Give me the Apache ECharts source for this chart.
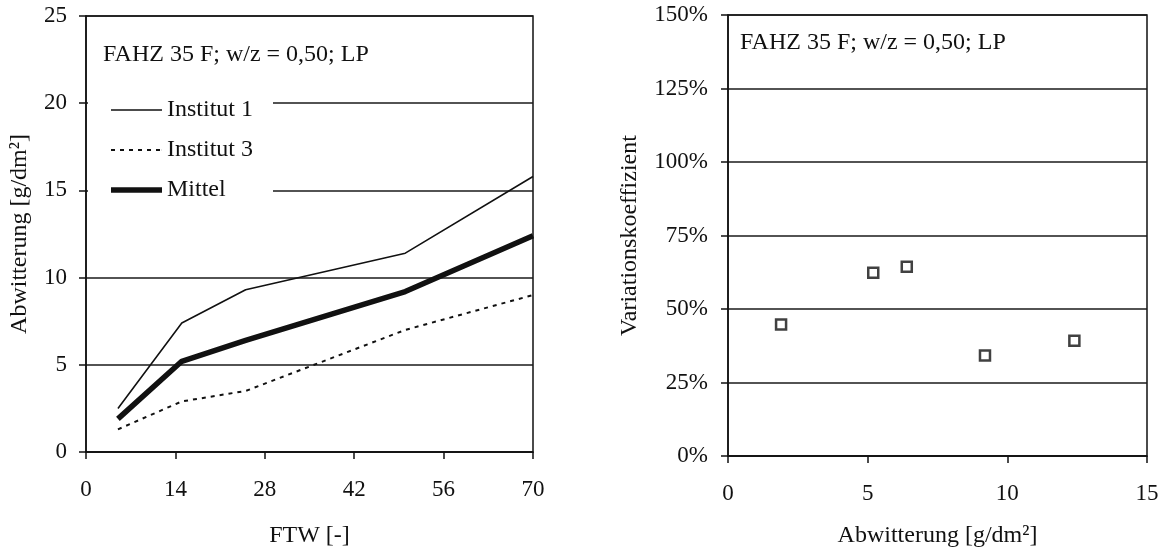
<!DOCTYPE html>
<html>
<head>
<meta charset="utf-8">
<script src="https://cdn.jsdelivr.net/npm/echarts@6/dist/echarts.min.js"></script>
<style>
  html, body { margin: 0; padding: 0; background: #fff; }
  #chart { width: 1166px; height: 553px; }
</style>
</head>
<body>
<div id="chart"></div>
<script>
// Frost-thaw cycles (FTW) at which scaling was measured
const ftw = [5, 15, 25, 50, 70];
// Scaling in g/dm² per laboratory and their mean
const institut1 = [2.5, 7.4, 9.3, 11.4, 15.8];
const institut3 = [1.3, 2.9, 3.5, 7.0, 9.0];
const mittel = [1.9, 5.2, 6.4, 9.2, 12.4];
// Coefficient of variation (%) belonging to each mean scaling value
const variation = [44.7, 62.3, 64.4, 34.2, 39.2];

const subtitle = 'FAHZ 35 F; w/z = 0,50; LP';
const FONT = '"Liberation Serif", "DejaVu Serif", serif';
const INK = '#111';

const pairs = (xs, ys) => xs.map((x, i) => [x, ys[i]]);

// Legend swatches: plain line, short dashes, heavy line
const ICON_SOLID = 'path://M0,0H51V1.6H0Z';
const ICON_DASH = 'path://M0,0h4v1.8h-4z M9,0h4v1.8h-4z M18,0h4v1.8h-4z M27,0h4v1.8h-4z M36,0h4v1.8h-4z M45,0h4v1.8h-4z M50.9,0h0.1v1.8h-0.1z';
const ICON_HEAVY = 'path://M0,0H51V5.5H0Z';

function valueAxis(opts) {
  return Object.assign({
    type: 'value',
    axisLine: { show: true, lineStyle: { color: INK, width: 1.5 } },
    axisTick: { show: true, inside: false, length: 7, lineStyle: { color: INK, width: 1.5 } },
    axisLabel: { color: INK, fontFamily: FONT, fontSize: 23 },
    splitLine: { show: true, lineStyle: { color: '#1a1a1a', width: 1.5 } },
    nameTextStyle: { color: INK, fontFamily: FONT, fontSize: 24 },
    nameLocation: 'middle'
  }, opts);
}

const chart = echarts.init(document.getElementById('chart'), null, { renderer: 'canvas' });

chart.setOption({
  backgroundColor: '#fff',
  animation: false,
  title: [
    { text: subtitle, left: 103, top: 43, padding: 0,
      textStyle: { color: INK, fontFamily: FONT, fontSize: 24, fontWeight: 'normal' } },
    { text: subtitle, left: 740, top: 31, padding: 0,
      textStyle: { color: INK, fontFamily: FONT, fontSize: 24, fontWeight: 'normal' } }
  ],
  legend: {
    data: [
      { name: 'Institut 1', icon: ICON_SOLID, itemStyle: { color: INK } },
      { name: 'Institut 3', icon: ICON_DASH, itemStyle: { color: INK } },
      { name: 'Mittel', icon: ICON_HEAVY, itemStyle: { color: INK } }
    ],
    orient: 'vertical',
    left: 88,
    top: 84,
    padding: [14, 20, 14, 23],
    itemGap: 16,
    itemWidth: 51,
    itemHeight: 14,
    symbolKeepAspect: true,
    backgroundColor: '#fff',
    textStyle: { color: INK, fontFamily: FONT, fontSize: 24 },
    selectedMode: false
  },
  grid: [
    { left: 86, top: 16, width: 447, height: 440, show: true,
      borderColor: INK, borderWidth: 1.5, containLabel: false },
    { left: 728, top: 15, width: 419, height: 445, show: true,
      borderColor: INK, borderWidth: 1.5, containLabel: false }
  ],
  xAxis: [
    valueAxis({ gridIndex: 0, min: 0, max: 70, interval: 14, name: 'FTW [-]', nameGap: 72,
      axisLabel: { color: INK, fontFamily: FONT, fontSize: 23, margin: 26 },
      splitLine: { show: false } }),
    valueAxis({ gridIndex: 1, min: 0, max: 15, interval: 5, name: 'Abwitterung [g/dm²]', nameGap: 68,
      axisLabel: { color: INK, fontFamily: FONT, fontSize: 23, margin: 26 },
      splitLine: { show: false } })
  ],
  yAxis: [
    valueAxis({ gridIndex: 0, min: 0, max: 25, interval: 5, name: 'Abwitterung [g/dm²]', nameGap: 54,
      axisLabel: { color: INK, fontFamily: FONT, fontSize: 23, margin: 19 } }),
    valueAxis({ gridIndex: 1, min: 0, max: 150, interval: 25, name: 'Variationskoeffizient', nameGap: 86,
      axisLabel: { color: INK, fontFamily: FONT, fontSize: 23, margin: 20, formatter: '{value}%' } })
  ],
  series: [
    { name: 'Institut 1', type: 'line', xAxisIndex: 0, yAxisIndex: 0,
      data: pairs(ftw, institut1), symbol: 'none', z: 3,
      itemStyle: { color: INK },
      lineStyle: { color: INK, width: 1.6, type: 'solid' } },
    { name: 'Institut 3', type: 'line', xAxisIndex: 0, yAxisIndex: 0,
      data: pairs(ftw, institut3), symbol: 'none', z: 3,
      itemStyle: { color: INK },
      lineStyle: { color: INK, width: 2, type: [4, 5] } },
    { name: 'Mittel', type: 'line', xAxisIndex: 0, yAxisIndex: 0,
      data: pairs(ftw, mittel), symbol: 'none', z: 4,
      itemStyle: { color: INK },
      lineStyle: { color: INK, width: 5.5, type: 'solid' } },
    { name: 'Variationskoeffizient', type: 'scatter', xAxisIndex: 1, yAxisIndex: 1,
      data: pairs(mittel, variation), symbol: 'rect', symbolSize: 10,
      itemStyle: { color: '#fff', borderColor: INK, borderWidth: 2.5 } }
  ]
});
</script>
</body>
</html>
